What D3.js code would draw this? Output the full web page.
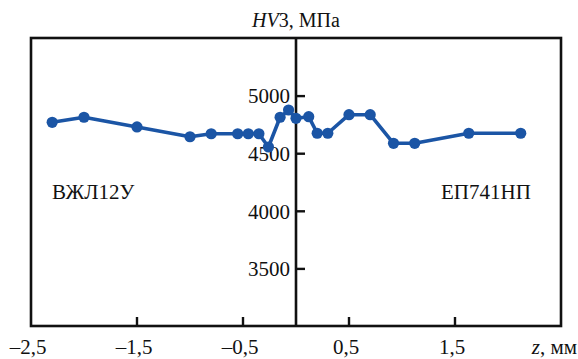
<!DOCTYPE html>
<html>
<head>
<meta charset="utf-8">
<script src="https://cdn.jsdelivr.net/npm/d3@7"></script>
<style>
  body { margin: 0; background: #fff; }
</style>
</head>
<body>
<svg id="drawing_region"></svg>
<script>
// distance from the weld line, mm
const zValues = [-2.3, -2.0, -1.5, -1.0, -0.8, -0.55, -0.45, -0.35, -0.26, -0.15, -0.07, 0.0,
                 0.12, 0.2, 0.3, 0.5, 0.7, 0.92, 1.12, 1.63, 2.12];
// HV3 hardness, MPa
const hvValues = [4768, 4812, 4728, 4643, 4669, 4669, 4669, 4669, 4554, 4812, 4875, 4803,
                  4817, 4673, 4673, 4834, 4834, 4586, 4586, 4673, 4673];
const xTicks = [-1.5, -0.5, 0.5, 1.5];
const xTickLabels = ['–2,5', '–1,5', '–0,5', '0,5', '1,5'];
const xLabelPos = [-2.5, -1.5, -0.5, 0.5, 1.5];
const yTicks = [3500, 4000, 4500, 5000];

const FONT = '"Liberation Serif", "Times New Roman", "DejaVu Serif", serif';

const config = {
    width: 578,
    height: 359,
    margin: { top: 38, right: 17, bottom: 33, left: 31 }
};

const svg = d3.select('#drawing_region')
    .attr('width', config.width)
    .attr('height', config.height)
    .attr('font-family', FONT)
    .style('font-family', FONT);

const plotLeft = config.margin.left;
const plotRight = config.width - config.margin.right;
const plotTop = config.margin.top;
const plotBottom = config.height - config.margin.bottom;

const xScale = d3.scaleLinear().domain([-2.5, 2.5]).range([plotLeft, plotRight]);
const yScale = d3.scaleLinear().domain([3000, 5500]).range([plotBottom, plotTop]);

function addText(sel) {
    return sel.append('text')
        .style('font-family', FONT)
        .style('font-size', '21px')
        .attr('fill', '#111');
}

// frame
svg.append('rect')
    .attr('x', plotLeft).attr('y', plotTop)
    .attr('width', plotRight - plotLeft).attr('height', plotBottom - plotTop)
    .attr('fill', 'none').attr('stroke', '#111').attr('stroke-width', 2.6);

// bottom ticks pointing inward
svg.selectAll('.xtick')
    .data(xTicks)
    .enter()
    .append('line')
    .attr('x1', d => xScale(d)).attr('x2', d => xScale(d))
    .attr('y1', plotBottom).attr('y2', plotBottom - 9)
    .attr('stroke', '#111').attr('stroke-width', 2.4);

svg.selectAll('.xlabel')
    .data(xLabelPos)
    .enter()
    .append('text')
    .attr('x', d => xScale(d) - 3)
    .attr('y', 354)
    .attr('text-anchor', 'middle')
    .style('font-family', FONT)
    .style('font-size', '21px')
    .attr('fill', '#111')
    .text((d, i) => xTickLabels[i]);

const zLabel = addText(svg)
    .attr('x', 577).attr('y', 354)
    .attr('text-anchor', 'end');
zLabel.append('tspan').style('font-style', 'italic').text('z');
zLabel.append('tspan').text(', мм');

// vertical axis at z = 0
const yAxis = d3.axisRight(yScale)
    .tickValues(yTicks)
    .tickSize(9)
    .tickFormat(d3.format('d'));

const yg = svg.append('g')
    .attr('transform', `translate(${xScale(0)},0)`)
    .call(yAxis)
    .attr('font-family', FONT);
yg.select('.domain').remove();
yg.selectAll('line').attr('stroke', '#111').attr('stroke-width', 2.4);
yg.selectAll('text')
    .attr('x', -6)
    .attr('dy', '0.35em')
    .attr('text-anchor', 'end')
    .style('font-family', FONT)
    .style('font-size', '21px')
    .attr('fill', '#111');

svg.append('line')
    .attr('x1', xScale(0)).attr('x2', xScale(0))
    .attr('y1', plotTop).attr('y2', plotBottom)
    .attr('stroke', '#111').attr('stroke-width', 2.6);

// title
const title = addText(svg)
    .attr('x', xScale(0)).attr('y', 27)
    .attr('text-anchor', 'middle')
    .style('font-size', '20px');
title.append('tspan').style('font-style', 'italic').text('HV');
title.append('tspan').text('3, МПа');

// material labels
addText(svg).attr('x', 52).attr('y', 199).text('ВЖЛ12У');
addText(svg).attr('x', 441).attr('y', 199).text('ЕП741НП');

// data line
const points = zValues.map((z, i) => ({ z: z, hv: hvValues[i] }));
const line = d3.line()
    .x(d => xScale(d.z))
    .y(d => yScale(d.hv));

svg.append('path')
    .datum(points)
    .attr('d', line)
    .attr('fill', 'none')
    .attr('stroke', '#1b55a5')
    .attr('stroke-width', 3.6)
    .attr('stroke-linejoin', 'round');

svg.selectAll('.dot')
    .data(points)
    .enter()
    .append('circle')
    .attr('cx', d => xScale(d.z))
    .attr('cy', d => yScale(d.hv))
    .attr('r', 5.6)
    .attr('fill', '#1b55a5');
</script>
</body>
</html>
